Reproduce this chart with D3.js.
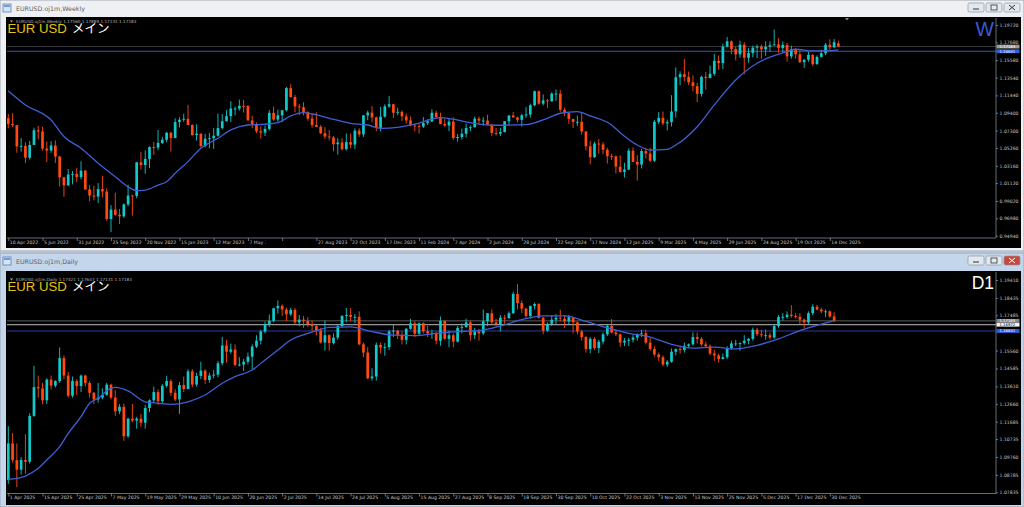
<!DOCTYPE html>
<html><head><meta charset="utf-8">
<script src="https://cdnjs.cloudflare.com/ajax/libs/d3/7.8.5/d3.min.js"></script>
<style>html,body{margin:0;padding:0;background:#dfe5ec;overflow:hidden}svg{display:block}</style>
</head><body><svg id="c" width="1024" height="507"></svg>
<script>
// ---------------- WEEKLY DATA (EURUSD, week of 10 Apr 2022 .. 28 Dec 2025) ----------------
const wOpen = [
1.0876,1.0809,1.0794,1.0545,1.0550,1.0412,1.0561,1.0734,1.0720,1.0519,
1.0496,1.0555,1.0425,1.0181,1.0087,1.0212,1.0220,1.0182,1.0259,1.0038,
0.9966,0.9954,1.0042,1.0014,0.9690,0.9802,0.9740,0.9722,0.9862,0.9966,
0.9962,1.0357,1.0325,1.0397,1.0536,1.0531,1.0585,1.0622,1.0705,1.0644,
1.0830,1.0857,1.0868,1.0797,1.0678,1.0694,1.0548,1.0634,1.0640,1.0670,
1.0760,1.0840,1.0900,1.0990,1.0990,1.1020,1.1019,1.0850,1.0805,1.0722,
1.0707,1.0750,1.0939,1.0860,1.0910,1.0970,1.1230,1.1125,1.1015,1.1005,
1.0947,1.0872,1.0795,1.0775,1.0700,1.0660,1.0650,1.0570,1.0590,1.0512,
1.0595,1.0565,1.0730,1.0685,1.0910,1.0942,1.0885,1.0762,1.0895,1.1015,
1.1040,1.0940,1.0951,1.0897,1.0850,1.0790,1.0785,1.0777,1.0820,1.0838,
1.0940,1.0890,1.0808,1.0790,1.0836,1.0643,1.0655,1.0693,1.0760,1.0770,
1.0870,1.0847,1.0848,1.0800,1.0702,1.0693,1.0712,1.0840,1.0908,1.0885,
1.0857,1.0911,1.0919,1.1028,1.1193,1.1047,1.1085,1.1075,1.1165,1.1165,
1.0975,1.0936,1.0866,1.0832,1.0833,1.0720,1.0545,1.0417,1.0577,1.0568,
1.0504,1.0429,1.0427,1.0306,1.0244,1.0272,1.0494,1.0362,1.0330,1.0490,
1.0460,1.0376,1.0833,1.0880,1.0815,1.0830,1.0955,1.1357,1.1393,1.1362,
1.1298,1.1253,1.1162,1.1362,1.1348,1.1398,1.1550,1.1523,1.1718,1.1780,
1.1690,1.1627,1.1740,1.1586,1.1642,1.1705,1.1718,1.1685,1.1716,1.1733,
1.1745,1.1702,1.1738,1.1603,1.1688,1.1627,1.1535,1.1564,1.1620,1.1510,
1.1597,1.1640,1.1740,1.1710,1.1756];
const wHigh = [
1.0925,1.0936,1.0795,1.0642,1.0593,1.0608,1.0764,1.0787,1.0774,1.0601,
1.0606,1.0615,1.0433,1.0185,1.0278,1.0255,1.0293,1.0368,1.0267,1.0090,
1.0079,1.0112,1.0198,1.0051,0.9853,0.9999,0.9809,0.9874,1.0094,0.9976,
1.0363,1.0481,1.0497,1.0545,1.0595,1.0737,1.0658,1.0713,1.0713,1.0874,
1.0887,1.0929,1.1033,1.0801,1.0804,1.0695,1.0692,1.0701,1.0760,1.0930,
1.0925,1.0973,1.1076,1.1012,1.1095,1.1092,1.1030,1.0905,1.0827,1.0780,
1.0787,1.0971,1.1012,1.0976,1.0970,1.1245,1.1276,1.1150,1.1045,1.1065,
1.0958,1.0930,1.0945,1.0795,1.0769,1.0737,1.0667,1.0640,1.0640,1.0696,
1.0695,1.0756,1.0757,1.0915,1.0965,1.1017,1.0895,1.1009,1.1040,1.1139,
1.1046,1.1000,1.0967,1.0933,1.0896,1.0807,1.0806,1.0889,1.0865,1.0981,
1.0964,1.0942,1.0865,1.0876,1.0885,1.0690,1.0753,1.0812,1.0790,1.0895,
1.0895,1.0888,1.0916,1.0810,1.0761,1.0762,1.0843,1.0910,1.0948,1.0895,
1.0926,1.1008,1.1047,1.1201,1.1202,1.1155,1.1100,1.1180,1.1214,1.1209,
1.0998,1.0945,1.0869,1.0905,1.0937,1.0724,1.0610,1.0598,1.0630,1.0594,
1.0528,1.0456,1.0438,1.0437,1.0353,1.0521,1.0533,1.0442,1.0513,1.0528,
1.0528,1.0854,1.0947,1.0955,1.0859,1.1146,1.1473,1.1428,1.1573,1.1425,
1.1380,1.1293,1.1375,1.1419,1.1495,1.1631,1.1615,1.1753,1.1830,1.1790,
1.1720,1.1788,1.1770,1.1699,1.1730,1.1742,1.1741,1.1781,1.1780,1.1918,
1.1818,1.1779,1.1760,1.1728,1.1700,1.1670,1.1568,1.1654,1.1630,1.1615,
1.1682,1.1760,1.1804,1.1808,1.17889];
const wLow = [
1.0757,1.0771,1.0470,1.0483,1.0349,1.0390,1.0559,1.0627,1.0495,1.0359,
1.0469,1.0350,1.0072,0.9952,1.0077,1.0097,1.0123,1.0156,1.0033,0.9900,
0.9910,0.9877,0.9944,0.9668,0.9536,0.9728,0.9632,0.9705,0.9840,0.9731,
0.9935,1.0273,1.0223,1.0289,1.0443,1.0500,1.0572,1.0593,1.0483,1.0640,
1.0766,1.0833,1.0794,1.0669,1.0613,1.0533,1.0533,1.0524,1.0516,1.0660,
1.0743,1.0837,1.0831,1.0910,1.0964,1.0942,1.0849,1.0759,1.0702,1.0635,
1.0666,1.0733,1.0844,1.0835,1.0833,1.0957,1.1116,1.0944,1.0913,1.0910,
1.0846,1.0766,1.0772,1.0686,1.0632,1.0616,1.0488,1.0448,1.0495,1.0496,
1.0523,1.0516,1.0656,1.0656,1.0852,1.0828,1.0723,1.0723,1.0880,1.0998,
1.0877,1.0910,1.0844,1.0812,1.0780,1.0722,1.0695,1.0761,1.0795,1.0830,
1.0867,1.0802,1.0774,1.0724,1.0622,1.0601,1.0624,1.0650,1.0723,1.0765,
1.0805,1.0788,1.0795,1.0668,1.0671,1.0666,1.0710,1.0797,1.0881,1.0825,
1.0777,1.0880,1.0881,1.1015,1.1034,1.1025,1.0999,1.1069,1.1080,1.0951,
1.0901,1.0810,1.0761,1.0787,1.0682,1.0496,1.0332,1.0410,1.0460,1.0452,
1.0343,1.0385,1.0226,1.0237,1.0178,1.0266,1.0358,1.0141,1.0285,1.0401,
1.0360,1.0360,1.0806,1.0796,1.0733,1.0778,1.0883,1.1265,1.1309,1.1265,
1.1192,1.1064,1.1130,1.1211,1.1345,1.1373,1.1445,1.1452,1.1710,1.1630,
1.1556,1.1585,1.1392,1.1528,1.1590,1.1583,1.1573,1.1609,1.1660,1.1730,
1.1645,1.1654,1.1542,1.1575,1.1576,1.1524,1.1468,1.1540,1.1490,1.1508,
1.1588,1.1616,1.1680,1.1700,1.17131];
const wClose = [
1.0809,1.0794,1.0545,1.0550,1.0412,1.0561,1.0734,1.0720,1.0519,1.0496,
1.0555,1.0425,1.0181,1.0087,1.0212,1.0220,1.0182,1.0259,1.0038,0.9966,
0.9954,1.0042,1.0014,0.9690,0.9802,0.9740,0.9722,0.9862,0.9966,0.9962,
1.0357,1.0325,1.0397,1.0536,1.0531,1.0585,1.0622,1.0705,1.0644,1.0830,
1.0857,1.0868,1.0797,1.0678,1.0694,1.0548,1.0634,1.0640,1.0670,1.0760,
1.0840,1.0900,1.0990,1.0990,1.1020,1.1019,1.0850,1.0805,1.0722,1.0707,
1.0750,1.0939,1.0860,1.0910,1.0970,1.1230,1.1125,1.1015,1.1005,1.0947,
1.0872,1.0795,1.0775,1.0700,1.0660,1.0650,1.0570,1.0590,1.0512,1.0595,
1.0565,1.0730,1.0685,1.0910,1.0942,1.0885,1.0762,1.0895,1.1015,1.1040,
1.0940,1.0951,1.0897,1.0850,1.0790,1.0785,1.0777,1.0820,1.0838,1.0940,
1.0890,1.0808,1.0790,1.0836,1.0643,1.0655,1.0693,1.0760,1.0770,1.0870,
1.0847,1.0848,1.0800,1.0702,1.0693,1.0712,1.0840,1.0908,1.0885,1.0857,
1.0911,1.0919,1.1028,1.1193,1.1047,1.1085,1.1075,1.1165,1.1165,1.0975,
1.0936,1.0866,1.0832,1.0833,1.0720,1.0545,1.0417,1.0577,1.0568,1.0504,
1.0429,1.0427,1.0306,1.0244,1.0272,1.0494,1.0362,1.0330,1.0490,1.0460,
1.0376,1.0833,1.0880,1.0815,1.0830,1.0955,1.1357,1.1393,1.1362,1.1298,
1.1253,1.1162,1.1362,1.1348,1.1398,1.1550,1.1523,1.1718,1.1780,1.1690,
1.1627,1.1740,1.1586,1.1642,1.1705,1.1718,1.1685,1.1716,1.1733,1.1745,
1.1702,1.1738,1.1603,1.1688,1.1627,1.1535,1.1564,1.1620,1.1510,1.1597,
1.1640,1.1740,1.1710,1.1770,1.17183];
// moving average: [bar index, value]
const wMA = [[0,1.1196],[4,1.1032],[10,1.0855],[13,1.0660],[17,1.0522],[21,1.0346],[25,1.0188],[28,1.0070],[30,1.0023],[32,1.0030],[35,1.0090],[37,1.0129],[39,1.0228],[42,1.0365],[45,1.0522],[49,1.0640],[52,1.0738],[56,1.0796],[60,1.0805],[63,1.0823],[66,1.0902],[69,1.0941],[72,1.0915],[75,1.0875],[80,1.0816],[84,1.0796],[87,1.0757],[91,1.0769],[95,1.0805],[99,1.0864],[101,1.0882],[104,1.0864],[108,1.0823],[113,1.0793],[121,1.0800],[126,1.0875],[129,1.0934],[133,1.0953],[136,1.0902],[141,1.0796],[143,1.0706],[147,1.0561],[150,1.0502],[154,1.0510],[156,1.0560],[161,1.0776],[165,1.1032],[170,1.1326],[175,1.1522],[178,1.1593],[182,1.1659],[184,1.1687],[188,1.1667],[191,1.1667],[194,1.1679]];
const wTickLabels = ["10 Apr 2022","5 Jun 2022","31 Jul 2022","25 Sep 2022","20 Nov 2022","15 Jan 2023","12 Mar 2023","7 May 2023","","27 Aug 2023","22 Oct 2023","17 Dec 2023","11 Feb 2024","7 Apr 2024","2 Jun 2024","28 Jul 2024","22 Sep 2024","17 Nov 2024","12 Jan 2025","9 Mar 2025","4 May 2025","29 Jun 2025","24 Aug 2025","19 Oct 2025","14 Dec 2025"];
const wPriceTicks = [1.19720,1.17680,1.15580,1.13540,1.11440,1.09400,1.07300,1.05260,1.03160,1.01120,0.99020,0.96980,0.94940];

// ---------------- DAILY DATA (EURUSD, 3 Apr 2025 .. 31 Dec 2025) ----------------
const dOpen = [
1.0850,1.1050,1.0959,1.0907,1.0960,1.0950,1.1200,1.1357,1.1350,1.1285,
1.1398,1.1365,1.1390,1.1515,1.1420,1.1310,1.1390,1.1363,1.1420,1.1380,
1.1326,1.1290,1.1300,1.1315,1.1370,1.1300,1.1225,1.1250,1.1089,1.1185,
1.1175,1.1185,1.1163,1.1243,1.1285,1.1330,1.1280,1.1364,1.1390,1.1326,
1.1290,1.1368,1.1347,1.1443,1.1371,1.1418,1.1447,1.1396,1.1420,1.1425,
1.1487,1.1584,1.1550,1.1562,1.1478,1.1480,1.1495,1.1523,1.1578,1.1610,
1.1660,1.1700,1.1718,1.1787,1.1800,1.1780,1.1754,1.1778,1.1710,1.1725,
1.1718,1.1700,1.1690,1.1665,1.1600,1.1640,1.1597,1.1627,1.1690,1.1745,
1.1750,1.1740,1.1740,1.1590,1.1545,1.1405,1.1415,1.1587,1.1573,1.1575,
1.1660,1.1665,1.1642,1.1615,1.1675,1.1705,1.1648,1.1705,1.1662,1.1650,
1.1650,1.1610,1.1718,1.1620,1.1640,1.1605,1.1680,1.1685,1.1710,1.1640,
1.1660,1.1650,1.1716,1.1760,1.1710,1.1700,1.1735,1.1733,1.1760,1.1865,
1.1815,1.1785,1.1745,1.1800,1.1810,1.1735,1.1665,1.1702,1.1725,1.1735,
1.1730,1.1715,1.1738,1.1710,1.1660,1.1630,1.1565,1.1620,1.1570,1.1605,
1.1645,1.1690,1.1655,1.1645,1.1600,1.1610,1.1615,1.1627,1.1645,1.1650,
1.1600,1.1565,1.1535,1.1520,1.1480,1.1495,1.1550,1.1564,1.1560,1.1582,
1.1590,1.1630,1.1620,1.1590,1.1580,1.1540,1.1530,1.1510,1.1520,1.1570,
1.1595,1.1595,1.1597,1.1610,1.1620,1.1670,1.1645,1.1640,1.1640,1.1628,
1.1690,1.1740,1.1740,1.1752,1.1745,1.1740,1.1725,1.1710,1.1760,1.1795,
1.1780,1.1770,1.1770,1.17421];
const dHigh = [
1.1144,1.1107,1.1050,1.0975,1.1100,1.1215,1.1473,1.1420,1.1380,1.1405,
1.1420,1.1395,1.1573,1.1530,1.1440,1.1415,1.1400,1.1425,1.1425,1.1390,
1.1330,1.1380,1.1350,1.1380,1.1375,1.1340,1.1265,1.1266,1.1190,1.1265,
1.1195,1.1210,1.1260,1.1290,1.1360,1.1345,1.1375,1.1419,1.1400,1.1345,
1.1385,1.1415,1.1455,1.1455,1.1435,1.1495,1.1455,1.1435,1.1450,1.1500,
1.1631,1.1615,1.1595,1.1590,1.1520,1.1510,1.1545,1.1590,1.1640,1.1670,
1.1715,1.1753,1.1790,1.1830,1.1808,1.1790,1.1790,1.1788,1.1750,1.1745,
1.1738,1.1720,1.1695,1.1680,1.1720,1.1645,1.1650,1.1700,1.1750,1.1788,
1.1788,1.1755,1.1770,1.1600,1.1575,1.1460,1.1600,1.1600,1.1597,1.1669,
1.1699,1.1670,1.1660,1.1680,1.1730,1.1716,1.1710,1.1710,1.1690,1.1670,
1.1660,1.1742,1.1720,1.1665,1.1650,1.1690,1.1705,1.1730,1.1720,1.1680,
1.1675,1.1780,1.1760,1.1780,1.1730,1.1750,1.1750,1.1770,1.1877,1.1918,
1.1830,1.1790,1.1800,1.1818,1.1815,1.1740,1.1710,1.1750,1.1755,1.1779,
1.1750,1.1750,1.1740,1.1715,1.1670,1.1635,1.1630,1.1630,1.1615,1.1655,
1.1700,1.1728,1.1670,1.1650,1.1625,1.1625,1.1640,1.1650,1.1670,1.1670,
1.1625,1.1580,1.1545,1.1530,1.1505,1.1568,1.1567,1.1580,1.1600,1.1595,
1.1655,1.1654,1.1630,1.1605,1.1590,1.1560,1.1540,1.1540,1.1580,1.1610,
1.1615,1.1600,1.1640,1.1625,1.1682,1.1680,1.1670,1.1670,1.1655,1.1700,
1.1750,1.1760,1.1770,1.1804,1.1760,1.1760,1.1730,1.1770,1.1808,1.1805,
1.1790,1.1780,1.1775,1.17647];
const dLow = [
1.0830,1.0946,1.0811,1.0880,1.0884,1.0940,1.1195,1.1300,1.1265,1.1265,
1.1345,1.1355,1.1380,1.1400,1.1300,1.1300,1.1315,1.1330,1.1360,1.1300,
1.1265,1.1273,1.1290,1.1310,1.1290,1.1200,1.1210,1.1064,1.1080,1.1165,
1.1130,1.1140,1.1130,1.1220,1.1270,1.1260,1.1270,1.1355,1.1310,1.1280,
1.1211,1.1330,1.1345,1.1356,1.1360,1.1400,1.1375,1.1380,1.1405,1.1410,
1.1475,1.1490,1.1540,1.1470,1.1470,1.1445,1.1480,1.1452,1.1570,1.1590,
1.1650,1.1685,1.1710,1.1758,1.1745,1.1717,1.1745,1.1700,1.1690,1.1680,
1.1685,1.1662,1.1640,1.1595,1.1556,1.1556,1.1590,1.1615,1.1680,1.1710,
1.1715,1.1705,1.1585,1.1520,1.1400,1.1392,1.1392,1.1540,1.1528,1.1560,
1.1630,1.1620,1.1590,1.1590,1.1670,1.1630,1.1640,1.1650,1.1630,1.1620,
1.1590,1.1583,1.1615,1.1575,1.1573,1.1600,1.1650,1.1680,1.1610,1.1620,
1.1610,1.1640,1.1690,1.1700,1.1690,1.1660,1.1700,1.1730,1.1755,1.1780,
1.1760,1.1730,1.1730,1.1780,1.1730,1.1645,1.1660,1.1690,1.1700,1.1715,
1.1680,1.1695,1.1650,1.1645,1.1610,1.1545,1.1542,1.1560,1.1542,1.1590,
1.1635,1.1650,1.1635,1.1576,1.1580,1.1580,1.1600,1.1610,1.1630,1.1590,
1.1555,1.1524,1.1500,1.1470,1.1468,1.1490,1.1530,1.1540,1.1545,1.1570,
1.1585,1.1595,1.1580,1.1570,1.1530,1.1500,1.1490,1.1508,1.1510,1.1560,
1.1580,1.1555,1.1588,1.1590,1.1610,1.1635,1.1630,1.1616,1.1616,1.1620,
1.1680,1.1720,1.1730,1.1735,1.1730,1.1700,1.1680,1.1700,1.1750,1.1775,
1.1760,1.1740,1.1735,1.17131];
const dClose = [
1.1050,1.0959,1.0907,1.0960,1.0950,1.1200,1.1357,1.1350,1.1285,1.1398,
1.1365,1.1390,1.1515,1.1420,1.1310,1.1390,1.1363,1.1420,1.1380,1.1326,
1.1290,1.1300,1.1315,1.1370,1.1300,1.1225,1.1250,1.1089,1.1185,1.1175,
1.1185,1.1163,1.1243,1.1285,1.1330,1.1280,1.1364,1.1390,1.1326,1.1290,
1.1368,1.1347,1.1443,1.1371,1.1418,1.1447,1.1396,1.1420,1.1425,1.1487,
1.1584,1.1550,1.1562,1.1478,1.1480,1.1495,1.1523,1.1578,1.1610,1.1660,
1.1700,1.1718,1.1787,1.1800,1.1780,1.1754,1.1778,1.1710,1.1725,1.1718,
1.1700,1.1690,1.1665,1.1600,1.1640,1.1597,1.1627,1.1690,1.1745,1.1750,
1.1740,1.1740,1.1590,1.1545,1.1405,1.1415,1.1587,1.1573,1.1575,1.1660,
1.1665,1.1642,1.1615,1.1675,1.1705,1.1648,1.1705,1.1662,1.1650,1.1650,
1.1610,1.1718,1.1620,1.1640,1.1605,1.1680,1.1685,1.1710,1.1640,1.1660,
1.1650,1.1716,1.1760,1.1710,1.1700,1.1735,1.1733,1.1760,1.1865,1.1815,
1.1785,1.1745,1.1800,1.1810,1.1735,1.1665,1.1702,1.1725,1.1735,1.1730,
1.1715,1.1738,1.1710,1.1660,1.1630,1.1565,1.1620,1.1570,1.1605,1.1645,
1.1690,1.1655,1.1645,1.1600,1.1610,1.1615,1.1627,1.1645,1.1650,1.1600,
1.1565,1.1535,1.1520,1.1480,1.1495,1.1550,1.1564,1.1560,1.1582,1.1590,
1.1630,1.1620,1.1590,1.1580,1.1540,1.1530,1.1510,1.1520,1.1570,1.1595,
1.1595,1.1597,1.1610,1.1620,1.1670,1.1645,1.1640,1.1640,1.1628,1.1690,
1.1740,1.1740,1.1752,1.1745,1.1740,1.1725,1.1710,1.1760,1.1795,1.1780,
1.1770,1.1770,1.1742,1.17183];
const dMA = [[0,1.0854],[4,1.0872],[7,1.0914],[9,1.0960],[12,1.1032],[14,1.1105],[17,1.1196],[19,1.1269],[21,1.1296],[24,1.1351],[25,1.1356],[28,1.1337],[32,1.1277],[35,1.1269],[38,1.1263],[42,1.1277],[46,1.1314],[50,1.1378],[53,1.1414],[57,1.1450],[60,1.1505],[63,1.1559],[66,1.1614],[70,1.1650],[73,1.1672],[75,1.1683],[80,1.1685],[85,1.1660],[90,1.1640],[95,1.1638],[100,1.1650],[105,1.1660],[110,1.1665],[115,1.1690],[120,1.1725],[125,1.1745],[130,1.1745],[135,1.1715],[140,1.1680],[145,1.1650],[150,1.1630],[155,1.1590],[160,1.1570],[165,1.1575],[170,1.1565],[175,1.1585],[180,1.1620],[185,1.1665],[190,1.1700],[193,1.1720]];
const dTickLabels = ["1 Apr 2025","15 Apr 2025","25 Apr 2025","7 May 2025","19 May 2025","29 May 2025","10 Jun 2025","20 Jun 2025","2 Jul 2025","14 Jul 2025","24 Jul 2025","5 Aug 2025","15 Aug 2025","27 Aug 2025","8 Sep 2025","18 Sep 2025","30 Sep 2025","10 Oct 2025","22 Oct 2025","3 Nov 2025","13 Nov 2025","25 Nov 2025","5 Dec 2025","17 Dec 2025","30 Dec 2025"];
const dPriceTicks = [1.19410,1.18435,1.17485,1.16510,1.15560,1.14585,1.13610,1.12660,1.11685,1.10735,1.09760,1.08785,1.07835];

// horizontal price lines
const bidPrice = 1.17183, whitePrice = 1.16972, bluePrice = 1.16631;

const BULL = "#12c9c9", BEAR = "#ff4a12", MA_COL = "#3f5fd6";
const svg = d3.select("#c");
const FONT = "'DejaVu Sans', 'Liberation Sans', sans-serif";

function windowFrame(y0, h, title, active) {
  const g = svg.append("g");
  g.append("rect").attr("x",0).attr("y",y0).attr("width",1024).attr("height",h)
    .attr("fill", active ? "#c3d6ec" : "#eef0f3").attr("stroke","#9aa6b4").attr("stroke-width",1);
  g.append("rect").attr("x",3).attr("y",y0+4).attr("width",8).attr("height",8).attr("fill","#d8e4f2").attr("stroke","#5b7fb5").attr("stroke-width",0.8);
  g.append("line").attr("x1",4).attr("x2",10).attr("y1",y0+6).attr("y2",y0+6).attr("stroke","#2a6bd0").attr("stroke-width",1.2);
  g.append("text").attr("x",16).attr("y",y0+11).attr("font-family",FONT).attr("font-size",6.3)
    .attr("fill", "#5a5f66").text(title);
  const bx = [968, 986, 1004];
  bx.forEach((x,i)=>{
    g.append("rect").attr("x",x).attr("y",y0+3).attr("width",16).attr("height",9).attr("rx",1.5)
      .attr("fill", (active && i===2) ? "#c9483c" : "#e3e8ee").attr("stroke", "#8a96a6").attr("stroke-width",0.7);
  });
  g.append("line").attr("x1",973).attr("x2",979).attr("y1",y0+9).attr("y2",y0+9).attr("stroke","#333").attr("stroke-width",1);
  g.append("rect").attr("x",991).attr("y",y0+5).attr("width",6).attr("height",5).attr("fill","none").attr("stroke","#333").attr("stroke-width",0.8);
  g.append("path").attr("d",`M1009,${y0+5}L1015,${y0+10}M1015,${y0+5}L1009,${y0+10}`).attr("stroke", active?"#fff":"#333").attr("stroke-width",1);
}

function drawPanel(cfg) {
  const {O,H,L,C,MA,ticks,labels,pTicks,yTop,yBot,pHigh,pLow,chartTop,chartBot,plotTop,plotBot,info,infoY,titleY,period,periodColor,periodSize,periodY,lines} = cfg;
  const n = C.length;
  const left = 7, right = 996;
  const x = d3.scaleLinear().domain([0,194]).range([8.3, 838.4]);
  const y = d3.scaleLinear().domain([pLow,pHigh]).range([yBot,yTop]);

  svg.append("rect").attr("x",6).attr("y",chartTop).attr("width",1015).attr("height",chartBot-chartTop).attr("fill","#000");

  const clipId = "clip"+chartTop;
  svg.append("clipPath").attr("id",clipId).append("rect").attr("x",left).attr("y",plotTop).attr("width",right-left).attr("height",plotBot-plotTop);
  const plot = svg.append("g").attr("clip-path",`url(#${clipId})`);

  lines.forEach(l=>{
    plot.append("line").attr("x1",left).attr("x2",right).attr("y1",y(l.p)).attr("y2",y(l.p))
      .attr("stroke",l.c).attr("stroke-width",1);
  });

  const idx = d3.range(n);
  plot.selectAll("line.wick").data(idx).join("line").attr("class","wick")
    .attr("x1",i=>x(i)).attr("x2",i=>x(i)).attr("y1",i=>y(H[i])).attr("y2",i=>y(L[i]))
    .attr("stroke",i=>C[i]>=O[i]?BULL:BEAR).attr("stroke-width",0.9);
  plot.selectAll("rect.body").data(idx).join("rect").attr("class","body")
    .attr("x",i=>x(i)-1.35).attr("width",2.7)
    .attr("y",i=>y(Math.max(O[i],C[i])))
    .attr("height",i=>Math.max(0.9, Math.abs(y(O[i])-y(C[i]))))
    .attr("fill",i=>C[i]>=O[i]?BULL:BEAR);

  const line = d3.line().x(d=>x(d[0])).y(d=>y(d[1])).curve(d3.curveMonotoneX);
  plot.append("path").datum(MA).attr("d",line).attr("fill","none").attr("stroke",MA_COL).attr("stroke-width",1.3);

  svg.append("line").attr("x1",right).attr("x2",right).attr("y1",chartTop+1).attr("y2",plotBot).attr("stroke","#7d8595").attr("stroke-width",0.8);
  svg.append("line").attr("x1",left).attr("x2",right).attr("y1",plotBot).attr("y2",plotBot).attr("stroke","#7d8595").attr("stroke-width",0.8);

  const xAxis = d3.axisBottom(x).tickValues(ticks).tickSize(3).tickSizeOuter(0)
    .tickFormat((d,i)=>labels[i]);
  const gx = svg.append("g").attr("transform",`translate(0,${plotBot})`).call(xAxis);
  gx.select(".domain").remove();
  gx.selectAll(".tick line").attr("stroke","#9aa0aa").attr("stroke-width",0.7);
  gx.selectAll(".tick text").attr("text-anchor","start").attr("dx",1).attr("dy",-0.5)
    .attr("fill","#c8c8c8").attr("font-family",FONT).attr("font-size",4.6);
  if (cfg.clipLabel !== undefined) {
    const cid = "lc"+chartTop;
    svg.append("clipPath").attr("id",cid).append("rect").attr("x",-2).attr("y",0).attr("width",19).attr("height",12);
    gx.selectAll(".tick").filter((d,i)=>i===cfg.clipLabel).select("text").attr("clip-path",`url(#${cid})`);
  }

  // price scale: labels hidden under the line price boxes are skipped (as the terminal does)
  const visibleTicks = pTicks.filter(p => lines.every(l => Math.abs(y(p)-y(l.p)) > 3.2));
  const yAxis = d3.axisRight(y).tickValues(visibleTicks).tickSize(2).tickFormat(d3.format(".5f"));
  const gy = svg.append("g").attr("transform",`translate(${right},0)`).call(yAxis);
  gy.select(".domain").remove();
  gy.selectAll(".tick line").attr("stroke","#9aa0aa").attr("stroke-width",0.7);
  gy.selectAll(".tick text").attr("x",3.5).attr("fill","#c8c8c8").attr("font-family",FONT).attr("font-size",4.6);

  lines.forEach(l=>{
    svg.append("rect").attr("x",right+0.5).attr("y",y(l.p)-1.9).attr("width",23).attr("height",3.8).attr("fill",l.box);
    svg.append("text").attr("x",right+3.5).attr("y",y(l.p)+1.3).attr("font-family",FONT).attr("font-size",3.8)
      .attr("fill",l.tc).text(d3.format(".5f")(l.p));
  });

  svg.append("path").attr("d",`M10,${infoY-3}l3,0l-1.5,2z`).attr("fill","#b0b0b0");
  svg.append("text").attr("x",16).attr("y",infoY).attr("font-family",FONT).attr("font-size",4.2).attr("fill","#b4b4b4").text(info);
  svg.append("text").attr("x",7.5).attr("y",titleY).attr("font-family","'Liberation Sans', Arial, sans-serif").attr("font-size",13.2)
    .attr("fill","#e6c213").text("EUR USD");
  svg.append("text").attr("x",72).attr("y",titleY).attr("font-family","'Noto Sans CJK JP', sans-serif").attr("font-size",12.5)
    .attr("fill","#ffffff").text("メイン");
  svg.append("text").attr("x",994).attr("y",periodY).attr("text-anchor","end").attr("font-family","'Liberation Sans', Arial, sans-serif")
    .attr("font-size",periodSize).attr("fill",periodColor).text(period);
}

svg.append("rect").attr("width",1024).attr("height",507).attr("fill","#d4dbe4");
windowFrame(0, 251, "EURUSD.oj1m,Weekly", false);
windowFrame(253, 254, "EURUSD.oj1m,Daily", true);

const tickIdx = d3.range(0, 193, 8);

drawPanel({O:wOpen,H:wHigh,L:wLow,C:wClose,MA:wMA,ticks:tickIdx,labels:wTickLabels,pTicks:wPriceTicks,
  yTop:25,yBot:235.7,pHigh:1.19720,pLow:0.94940,chartTop:17,chartBot:248,plotTop:18,plotBot:238,
  info:"EURUSD.oj1m,Weekly  1.17560 1.17889 1.17131 1.17183",infoY:23.4,titleY:33.4,
  period:"W",periodColor:"#3b5bd6",periodSize:19.5,periodY:35.7,
  lines:[{p:bidPrice,c:"#3a3a3a",box:"#9a9a9a",tc:"#ffffff"},{p:bluePrice,c:"#3452c0",box:"#2f5fe0",tc:"#ffffff"}],
  clipLabel:7});

drawPanel({O:dOpen,H:dHigh,L:dLow,C:dClose,MA:dMA,ticks:tickIdx,labels:dTickLabels,pTicks:dPriceTicks,
  yTop:280,yBot:492.3,pHigh:1.19410,pLow:1.07835,chartTop:271,chartBot:505,plotTop:272,plotBot:493.5,
  info:"EURUSD.oj1m,Daily  1.17421 1.17647 1.17131 1.17183",infoY:281.4,titleY:290.8,
  period:"D1",periodColor:"#ffffff",periodSize:17.5,periodY:289.4,
  lines:[{p:bidPrice,c:"#5a5a5a",box:"#8a8a8a",tc:"#ffffff"},{p:whitePrice,c:"#bdbdbd",box:"#f2f2f2",tc:"#000000"},{p:bluePrice,c:"#2c3f9a",box:"#2f5fe0",tc:"#ffffff"}]});

svg.append("path").attr("d","M845,18l4,0l-2,2.5z").attr("fill","#8a8a8a");
</script></body></html>
